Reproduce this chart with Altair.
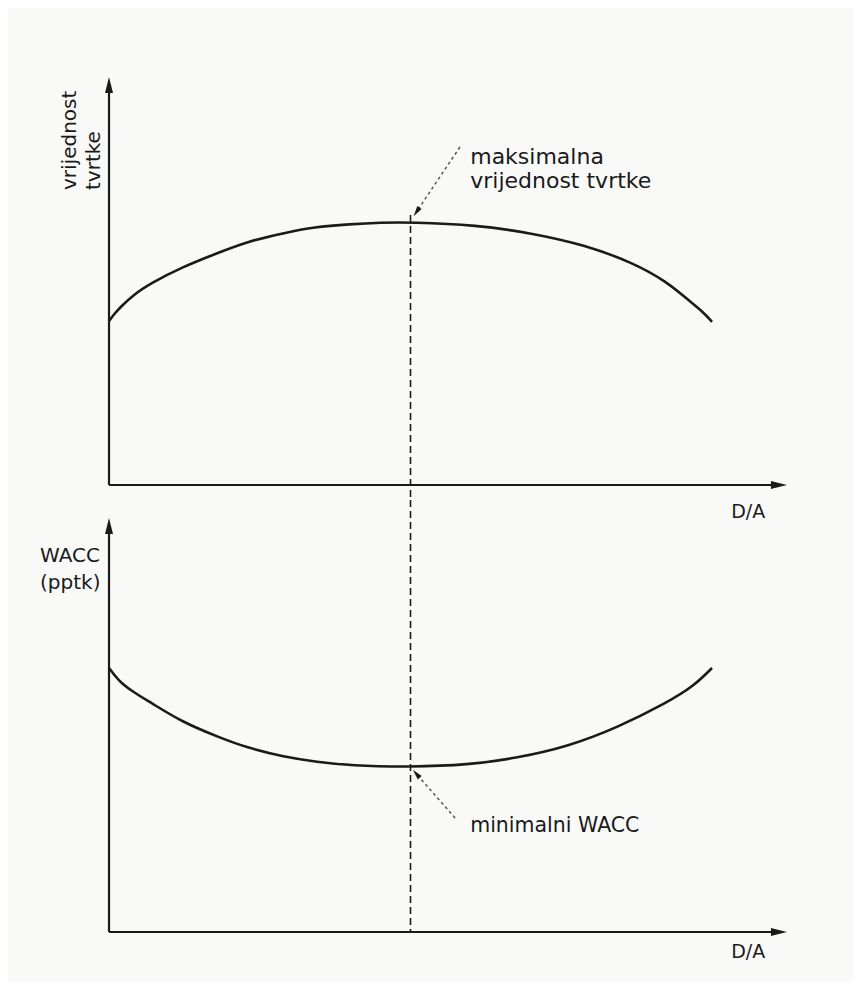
import altair as alt
import pandas as pd

# ---- data (D/A in arbitrary units 0..100) ----
top_da = [0, 1, 2, 4, 7, 12, 18, 23, 29, 34, 40, 45, 50, 61, 70, 79, 87, 92.5, 96, 98.5, 100]
top_value = [41, 43, 44.6, 47.5, 50.5, 54.4, 58, 60.9, 63, 64.5, 65.2, 65.6, 65.7, 65, 63, 60,
             55.5, 50.8, 46.3, 43.3, 40.8]

bot_da = [0, 1, 2, 4, 7, 12, 18, 23, 29, 34.5, 40, 50, 59.5, 67.7, 76, 84.2, 92.5, 97, 100]
bot_wacc = [66, 64, 62.3, 60, 57.3, 52.6, 48.8, 46, 43.8, 42.5, 41.6, 41.25, 41.75, 43.5, 46.3,
            51, 57.3, 61.5, 66]

optimum_da = 50
top_peak = 67.5

top_ylabel = ["vrijednost", "tvrtke"]
top_note = ["maksimalna", "vrijednost tvrtke"]
bot_ylabel = ["WACC", "(pptk)"]
bot_note = ["minimalni WACC"]
xlabel = "D/A"

# ---- layout ----
W = 845
H_TOP = 492
H_BOT = 482
X_DOM = [-16.75, 123.38]
Y_TOP = [-3.75, 119.25]
Y_BOT = [-12.5, 108]
X_ARROW = 111.1
FONT = "DejaVu Sans"
INK = "#1a1a1a"
ARROW = "M0,-1L0.5,1L-0.5,1Z"

sx = alt.Scale(domain=X_DOM, nice=False, zero=False)


def panel(curve_x, curve_y, y_dom, y_arrow, dash_from, dash_to,
          ylabels, ylab_spec, notes, note_spec, note_line, note_head, xlab_ys, height):
    sy = alt.Scale(domain=y_dom, nice=False, zero=False)
    X = lambda f: alt.X(f, type="quantitative", scale=sx, axis=None)
    Y = lambda f: alt.Y(f, type="quantitative", scale=sy, axis=None)

    curve = alt.Chart(pd.DataFrame({"da": curve_x, "v": curve_y})).mark_line(
        color=INK, strokeWidth=2.6, interpolate="basis"
    ).encode(x=X("da"), y=Y("v"))

    yaxis = alt.Chart(pd.DataFrame({"a": [0], "y1": [0], "y2": [y_arrow]})).mark_rule(
        color=INK, strokeWidth=2.2
    ).encode(x=X("a"), y=Y("y1"), y2="y2")
    xaxis = alt.Chart(pd.DataFrame({"x1": [0], "x2": [X_ARROW], "y": [0]})).mark_rule(
        color=INK, strokeWidth=2.2
    ).encode(x=X("x1"), x2="x2", y=Y("y"))

    heads = alt.Chart(pd.DataFrame({"x": [0], "y": [y_arrow]})).mark_point(
        shape=ARROW, filled=True, size=256, color=INK, opacity=1, strokeWidth=0
    ).encode(x=X("x"), y=Y("y"))
    xhead = alt.Chart(pd.DataFrame({"x": [X_ARROW], "y": [0]})).mark_point(
        shape=ARROW, filled=True, size=256, color=INK, opacity=1, strokeWidth=0, angle=90
    ).encode(x=X("x"), y=Y("y"))

    dash = alt.Chart(pd.DataFrame({"x": [optimum_da], "y1": [dash_from], "y2": [dash_to]})).mark_rule(
        color=INK, strokeWidth=1.6, strokeDash=[7, 4]
    ).encode(x=X("x"), y=Y("y1"), y2="y2")

    ylab = alt.Chart(pd.DataFrame({"t": ylabels, "x": ylab_spec["x"], "y": ylab_spec["y"]})).mark_text(
        font=FONT, fontSize=20, color=INK, align=ylab_spec["align"], baseline="middle",
        angle=ylab_spec["angle"]
    ).encode(x=X("x"), y=Y("y"), text="t")

    note = alt.Chart(pd.DataFrame({"t": notes, "x": note_spec["x"], "y": note_spec["y"]})).mark_text(
        font=FONT, fontSize=note_spec["size"], color=INK, align="left", baseline="middle"
    ).encode(x=X("x"), y=Y("y"), text="t")

    nline = alt.Chart(pd.DataFrame({"x1": [note_line[0]], "y1": [note_line[1]],
                                    "x2": [note_line[2]], "y2": [note_line[3]]})).mark_rule(
        color="#555555", strokeWidth=1.5, strokeDash=[3, 3]
    ).encode(x=X("x1"), y=Y("y1"), x2="x2", y2="y2")
    nhead = alt.Chart(pd.DataFrame({"x": [note_head[0]], "y": [note_head[1]]})).mark_point(
        shape=ARROW, filled=True, size=110, color=INK, opacity=1, strokeWidth=0, angle=note_head[2]
    ).encode(x=X("x"), y=Y("y"))

    layers = [dash, yaxis, xaxis, heads, xhead, curve, ylab, note, nline, nhead]
    if xlab_ys:
        xl = alt.Chart(pd.DataFrame({"t": [xlabel] * len(xlab_ys), "x": [106.0] * len(xlab_ys),
                                     "y": xlab_ys})).mark_text(
            font=FONT, fontSize=19, color=INK, align="center", baseline="middle"
        ).encode(x=X("x"), y=Y("y"), text="t")
        layers.append(xl)

    return alt.layer(*layers).properties(width=W, height=height)


top = panel(
    top_da, top_value, Y_TOP, 100, top_peak, Y_TOP[0],
    top_ylabel, {"x": [-6.5, -2.5], "y": [73.75, 73.75], "align": "left", "angle": 270},
    top_note, {"x": [59.9, 59.9], "y": [82, 76], "size": 22},
    (58.2, 84.5, 51.0, 68.3), (51.0, 68.3, 214),
    [], H_TOP,
)

# the upper panel's "D/A" sits just under its axis, i.e. inside the lower panel's area
bottom = panel(
    bot_da, bot_wacc, Y_BOT, 101.5, Y_BOT[1], 0,
    bot_ylabel, {"x": [-11.44, -11.44], "y": [94, 87.25], "align": "left", "angle": 0},
    bot_note, {"x": [59.9], "y": [26.5], "size": 20.5},
    (57.4, 28.5, 50.96, 39.55), (50.96, 39.55, 319),
    [105.1, -5], H_BOT,
)

chart = alt.vconcat(top, bottom, spacing=0, bounds="flush").properties(
    padding=0, background="#f9f9f8"
).configure_view(stroke=None)

chart.save("out.html", embed_options={"renderer": "svg", "actions": False})
